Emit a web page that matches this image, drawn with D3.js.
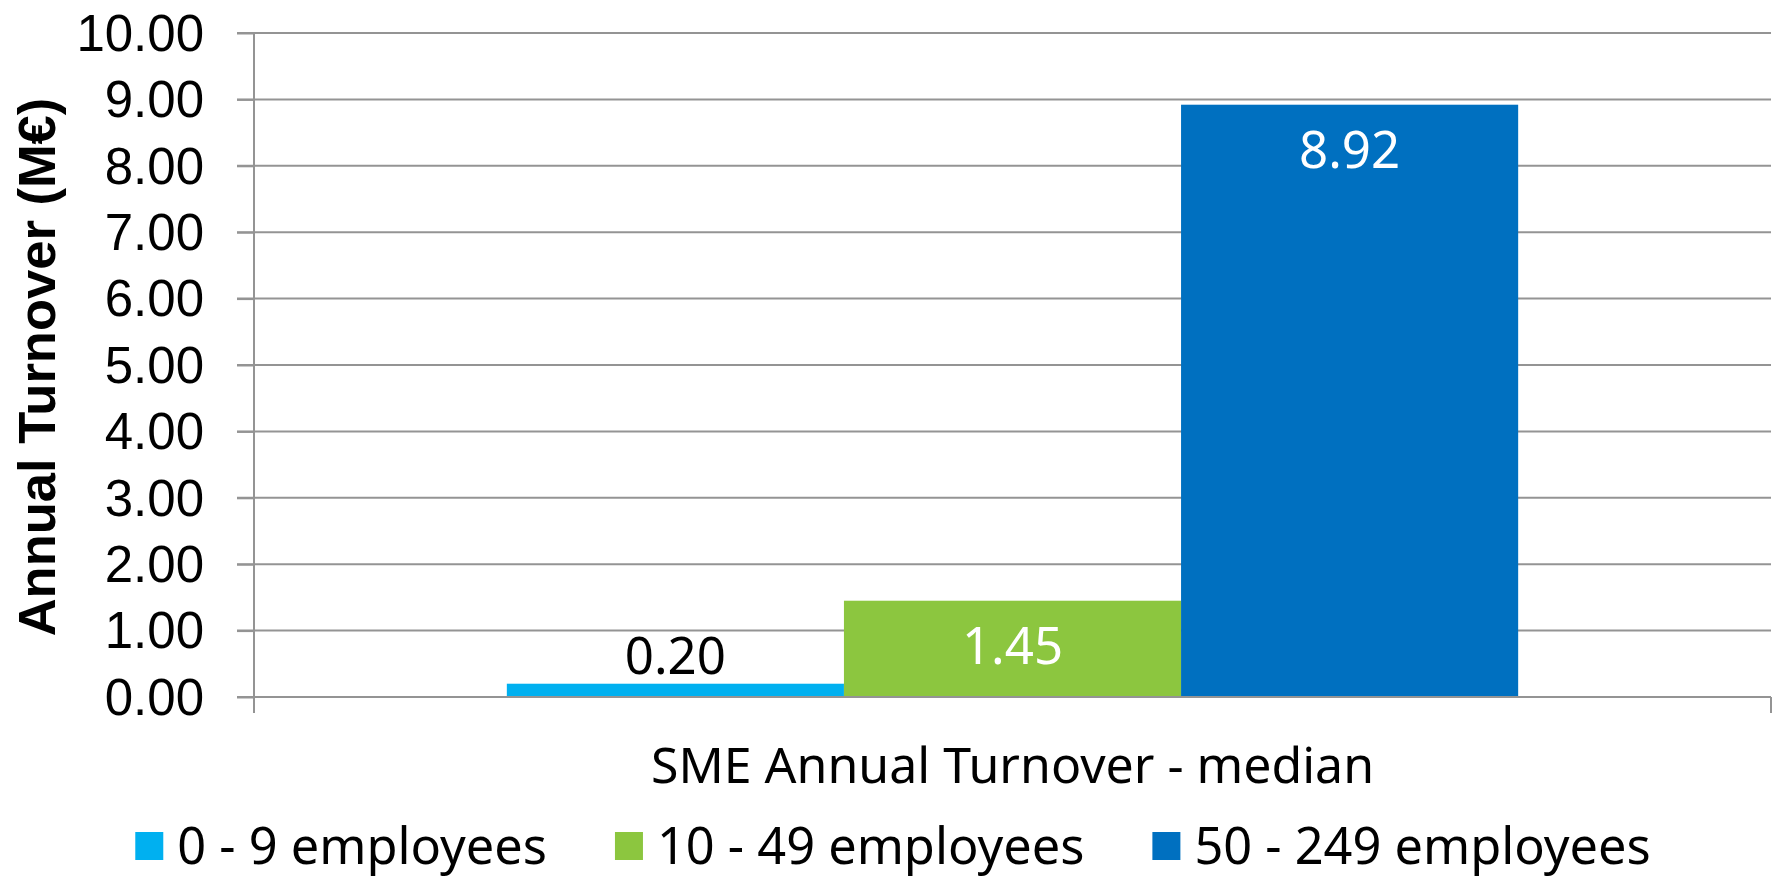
<!DOCTYPE html>
<html>
<head>
<meta charset="utf-8">
<script src="https://cdn.jsdelivr.net/npm/d3@7"></script>
<style>
  html, body { margin: 0; padding: 0; background: #fff; }
  svg { display: block; }
</style>
</head>
<body>
<svg id="chart" width="1777" height="878"></svg>
<script>
const groups = ["SME Annual Turnover - median"];
const seriesNames = ["0 - 9 employees", "10 - 49 employees", "50 - 249 employees"];
const seriesValues = [0.20, 1.45, 8.92];
const seriesColors = ["#00B0F0", "#8CC63F", "#0070C0"];
const yTicks = [0, 1, 2, 3, 4, 5, 6, 7, 8, 9, 10];
const yTitle = "Annual Turnover (M€)";

const svg = d3.select("#chart");
const margin = {left: 254, top: 33, right: 6, bottom: 181};
const W = 1777 - margin.left - margin.right;
const H = 878 - margin.top - margin.bottom;
const g = svg.append("g").attr("transform", `translate(${margin.left},${margin.top})`);

const y = d3.scaleLinear().domain([0, 10]).range([H, 0]);
const x0 = d3.scaleBand().domain(groups).range([0, W]).padding(0.2);
const x1 = d3.scaleBand().domain(seriesNames).range([0, x0.bandwidth()]).padding(0);

const gridColor = "#949494";
const labelFont = "'Noto Sans', sans-serif";

// gridlines
g.append("g").selectAll("line").data(yTicks).join("line")
  .attr("x1", -17).attr("x2", W)
  .attr("y1", d => y(d)).attr("y2", d => y(d))
  .attr("stroke", gridColor).attr("stroke-width", 2);

// bars
const data = seriesNames.map((s, i) => ({group: groups[0], name: s, value: seriesValues[i], color: seriesColors[i]}));
const bars = g.append("g");
bars.selectAll("rect").data(data).join("rect")
  .attr("x", d => x0(d.group) + x1(d.name))
  .attr("width", x1.bandwidth())
  .attr("y", d => y(d.value))
  .attr("height", d => y(0) - y(d.value))
  .attr("fill", d => d.color);

// x axis line + end ticks
g.append("line").attr("x1", -17).attr("x2", W).attr("y1", y(0)).attr("y2", y(0))
  .attr("stroke", gridColor).attr("stroke-width", 2);
g.append("line").attr("x1", W).attr("x2", W).attr("y1", y(0)).attr("y2", y(0) + 16)
  .attr("stroke", gridColor).attr("stroke-width", 2);

// y axis
const yAxis = d3.axisLeft(y).tickValues(yTicks).tickSize(17).tickPadding(33)
  .tickFormat(d3.format(".2f"));
const ya = g.append("g").call(yAxis);
ya.select(".domain").remove();
ya.selectAll(".tick line").attr("stroke", gridColor).attr("stroke-width", 2);
ya.selectAll(".tick text")
  .attr("font-family", "'Liberation Sans', Arial, sans-serif")
  .attr("font-size", 51).attr("fill", "#000").attr("dy", "0.34em");
g.append("line").attr("x1", 0).attr("x2", 0).attr("y1", 0).attr("y2", y(0) + 16)
  .attr("stroke", gridColor).attr("stroke-width", 2);

// data labels
bars.selectAll("text").data(data).join("text")
  .attr("x", d => x0(d.group) + x1(d.name) + x1.bandwidth() / 2)
  .attr("y", d => d.value < 1 ? y(d.value) - 10 : y(d.value) + 63)
  .attr("text-anchor", "middle")
  .attr("font-family", labelFont).attr("font-size", 51)
  .attr("fill", d => d.value < 1 ? "#000" : "#fff")
  .text(d => d3.format(".2f")(d.value));

// x category title
g.append("text")
  .attr("x", x0(groups[0]) + x0.bandwidth() / 2)
  .attr("y", 783 - margin.top)
  .attr("text-anchor", "middle")
  .attr("font-family", labelFont).attr("font-size", 50).attr("fill", "#000")
  .text(groups[0]);

// y title
svg.append("text")
  .attr("transform", "translate(55,367) rotate(-90)")
  .attr("text-anchor", "middle")
  .attr("font-family", "'Liberation Sans', Arial, sans-serif")
  .attr("font-weight", "bold").attr("font-size", 52.5).attr("fill", "#000")
  .text(yTitle);

// legend
const legend = svg.append("g");
const items = legend.selectAll("g").data(data).join("g");
items.append("rect").attr("width", 28).attr("height", 28).attr("y", 832).attr("fill", d => d.color);
items.append("text").attr("y", 864)
  .attr("font-family", labelFont).attr("font-size", 50.5).attr("fill", "#000")
  .text(d => d.name);
let cx = 0;
const pos = [];
items.each(function(d, i) {
  const tw = d3.select(this).select("text").node().getComputedTextLength();
  pos.push(cx);
  cx += 28 + 14 + tw + (i < data.length - 1 ? 68 : 0);
});
const startX = 893 - cx / 2;
items.each(function(d, i) {
  const gx = startX + pos[i];
  d3.select(this).select("rect").attr("x", gx);
  d3.select(this).select("text").attr("x", gx + 42);
});
</script>
</body>
</html>
